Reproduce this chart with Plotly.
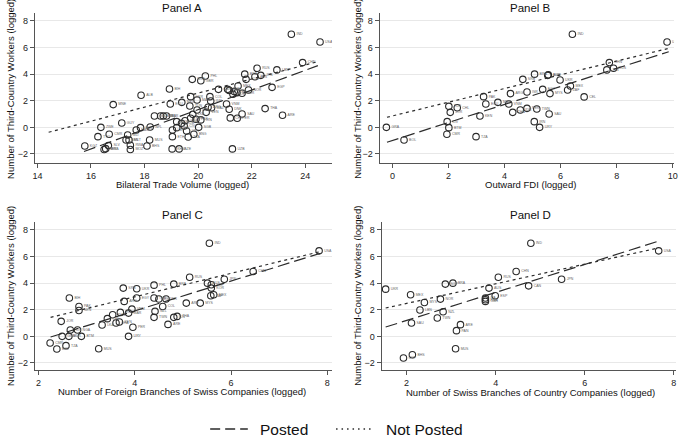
import plotly.graph_objects as go

# ---------------- data ----------------
a_x = [23.48, 24.55, 23.9, 22.94, 22.2, 21.74, 22.12, 22.34, 21.79, 20.27, 19.78, 20.1, 18.93, 17.87, 16.83,
       22.76, 20.76, 21.1, 21.16, 21.49, 21.35, 21.45, 21.64, 21.88, 21.3, 19.72, 20.44, 19.96, 20.47, 19.39,
       18.96, 19.69, 21.06, 20.37, 20.5, 19.96, 20.3, 21.16, 21.64, 22.5, 23.15, 21.2, 21.46, 18.37, 18.6,
       18.7, 18.82, 19.8, 19.72, 19.92, 20.1, 19.51, 19.2, 19.38, 19.2, 19.48, 20.02, 19.04, 19.57, 19.84,
       19.63, 19.04, 18.19, 18.09, 19.03, 19.29, 21.28, 17.47, 17.47, 16.49, 16.65, 15.77, 16.26, 16.68, 16.37,
       17.15, 17.31, 17.37, 17.69, 17.85, 18.21, 17.42, 16.55]
a_y = [7.0, 6.42, 4.87, 4.32, 4.44, 4.0, 3.81, 3.91, 3.61, 3.86, 3.61, 3.51, 2.89, 2.41, 1.71,
       3.01, 2.86, 2.86, 2.78, 3.11, 2.69, 2.6, 2.56, 2.81, 2.49, 2.31, 2.31, 2.06, 1.98, 1.88,
       1.76, 1.61, 1.76, 1.51, 1.48, 1.31, 1.13, 1.36, 1.0, 1.41, 0.91, 0.71, 0.68, 0.86, 0.86,
       0.86, 0.86, 0.98, 0.68, 0.61, 0.56, 0.5, 0.43, 0.3, -0.02, 0.1, 0.0, -0.2, -0.27, -0.52,
       -0.72, -0.7, -0.95, -1.4, -1.62, -1.62, -1.62, -1.67, -1.35, -1.67, -1.37, -1.4, -0.7, -0.52, 0.0,
       0.33, -0.95, -0.57, -0.2, -0.02, 0.03, -0.95, -1.6]
a_lab = ["IND", "USA", "CHN", "LBN", "RUS", "BRA", "AUS", "JPN", "KOR", "PHL", "SRB", "GBR", "BIH", "ALB", "MNE",
         "EGP", "CAN", "ESP", "ITA", "MEX", "FRA", "NLD", "TUR", "NOR", "POL", "UKR", "COL", "MAR", "IDN", "MKD",
         "ECU", "TUN", "VNM", "ARG", "MAZ", "DZA", "VEN", "DNK", "SAU", "THA", "ARE", "CHL", "PER", "GEO", "ARM",
         "MDA", "BLR", "LKA", "KEN", "PAK", "IRN", "GHA", "JOR", "CUB", "SEN", "CIV", "SGB", "LBY", "URY", "BNG",
         "TZA", "ETH", "MUS", "BHS", "KHM", "AZE", "UZB", "MOZ", "RWA", "NER", "SLV", "KGZ", "TTO", "CMR", "ZWE",
         "GUY", "BEN", "MLI", "NAM", "BOL", "NPL", "MLT", "BWA"]
a_posted_x = [15.74, 24.47]
a_posted_y = [-1.82, 4.64]
a_notposted_x = [14.42, 24.47]
a_notposted_y = [-0.37, 4.94]

b_x = [6.42, 9.8, 7.74, 7.65, 7.89, 5.07, 5.54, 5.56, 4.65, 5.98, 5.36, 4.8, 5.62, 4.21, 6.25, 6.35, 6.84,
       3.25, 3.76, 4.15, 3.33, 2.01, 2.31, 2.06, 4.8, 4.56, 5.15, 4.29, 5.59, 3.12, 1.95, 5.06, 2.01, 5.25,
       -0.22, 1.94, 2.98, 0.41]
b_y = [7.0, 6.42, 4.87, 4.32, 4.44, 4.0, 3.91, 3.95, 3.61, 3.56, 2.86, 2.66, 2.54, 2.54, 2.81, 3.11, 2.29,
       2.31, 1.88, 1.76, 1.76, 1.58, 1.48, 1.13, 1.43, 1.31, 1.38, 1.13, 1.0, 0.86, 0.43, 0.43, -0.02, 0.0,
       0.0, -0.52, -0.7, -0.95]
b_lab = ["IND", "USA", "CHN", "JPN", "RUS", "BRA", "AUS", "SGP", "SRB", "UKR", "EGY", "ISR", "MYS", "ARG",
         "ZAF", "MEX", "CEL", "PAK", "MAR", "VNM", "ECU", "TUN", "CHL", "JOR", "PER", "IDN", "TWN", "THA",
         "SAU", "KEN", "CIV", "IRN", "BTM", "URY", "GRA", "CMR", "TZA", "BOL"]
b_posted_x = [-0.2, 9.86]
b_posted_y = [-1.12, 5.69]
b_notposted_x = [-0.2, 9.86]
b_notposted_y = [0.76, 5.94]

c_x = [5.55, 7.83, 6.46, 5.86, 5.14, 5.51, 5.59, 5.59, 4.81, 4.4, 3.76, 4.04, 2.64, 4.4, 4.04, 4.5, 4.65,
       3.78, 5.58, 5.64, 5.07, 5.36, 4.58, 2.84, 2.84, 4.42, 3.94, 3.87, 3.7, 3.54, 3.43, 2.47, 4.4, 4.81,
       4.88, 3.61, 3.68, 3.32, 4.69, 3.96, 2.66, 2.81, 2.49, 2.63, 2.89, 3.87, 2.24, 2.57, 2.38, 3.25]
c_y = [7.0, 6.43, 4.88, 4.3, 4.45, 4.0, 3.88, 3.63, 3.93, 3.85, 3.63, 3.58, 2.88, 2.88, 2.88, 2.81, 2.81,
       2.63, 3.05, 3.13, 2.5, 2.5, 2.25, 2.25, 1.95, 1.88, 2.05, 1.75, 1.8, 1.63, 1.33, 1.13, 1.43, 1.43,
       1.5, 1.0, 1.08, 0.85, 0.9, 0.68, 0.48, 0.48, 0.0, 0.0, 0.0, 0.0, -0.5, -0.7, -0.95, -0.93]
c_lab = ["IND", "USA", "CHN", "JPN", "RUS", "AUS", "SGP", "KOR", "BRA", "PHL", "SRB", "UKR", "BIH", "TUR",
         "EGY", "ESP", "ISR", "ARG", "ZAF", "MEX", "ARE", "MYS", "COL", "PAK", "SEN", "NZL", "VNM", "MAR",
         "ECU", "TUN", "CHL", "JOR", "TWN", "IDN", "THA", "GHA", "KEN", "LKA", "ARE", "PER", "CIV", "NGA",
         "GRA", "BLR", "BTM", "URY", "CMR", "TZA", "BOL", "MUS"]
c_posted_x = [2.25, 7.86]
c_posted_y = [-0.05, 6.25]
c_notposted_x = [2.25, 7.86]
c_notposted_y = [1.43, 6.38]

d_x = [4.79, 7.66, 4.46, 5.48, 4.06, 4.74, 3.85, 2.87, 3.04, 1.53, 2.09, 2.4, 2.76, 3.99, 3.77, 3.77, 3.77,
       2.3, 2.82, 2.69, 2.11, 3.21, 3.12, 3.1, 2.13, 1.93]
d_y = [7.0, 6.43, 4.88, 4.3, 4.45, 3.8, 3.63, 3.93, 4.0, 3.55, 3.13, 2.55, 2.8, 3.05, 2.88, 2.75, 2.63,
       1.98, 1.85, 1.38, 1.0, 0.88, 0.43, -0.93, -1.38, -1.63]
d_lab = ["IND", "USA", "CHN", "JPN", "RUS", "CAN", "AUS", "SGP", "BRA", "UKR", "MEX", "MYS", "NOR", "ESP",
         "ITA", "FRA", "GBR", "LBN", "NZL", "TWN", "SAU", "ARE", "PAN", "MUS", "BHS", "CYP"]
d_posted_x = [1.53, 7.63]
d_posted_y = [0.7, 7.13]
d_notposted_x = [1.53, 7.63]
d_notposted_y = [2.13, 6.63]

x_titles = ["Bilateral Trade Volume (logged)", "Outward FDI (logged)",
            "Number of Foreign Branches of Swiss Companies (logged)",
            "Number of Swiss Branches of Country Companies (logged)"]
panel_titles = ["Panel A", "Panel B", "Panel C", "Panel D"]
y_title = "Number of Third-Country Workers (logged)"
y_ticks = [-2, 0, 2, 4, 6, 8]
x_ticks = [[14, 16, 18, 20, 22, 24], [0, 2, 4, 6, 8, 10], [2, 4, 6, 8], [2, 4, 6, 8]]
legend_labels = ["Posted", "Not Posted"]

# ---------------- layout helpers ----------------
W, H = 685, 437
FONT = "Liberation Sans, Arial, Helvetica, sans-serif"
INK = "#2b2b2b"

def fx(p):
    return p / W

def fy(p):
    return 1 - p / H

panels = [
    dict(x=a_x, y=a_y, lab=a_lab, px=a_posted_x, py=a_posted_y, nx=a_notposted_x, ny=a_notposted_y,
         xr=[13.9, 25.0], xdom=(33, 333), ydom=(13, 163), yr=[-2.68, 8.6],
         title_xy=(182, 8), xt_xy=(182, 184), yt_xy=(8, 89)),
    dict(x=b_x, y=b_y, lab=b_lab, px=b_posted_x, py=b_posted_y, nx=b_notposted_x, ny=b_notposted_y,
         xr=[-0.46, 10.05], xdom=(381, 678), ydom=(13, 163), yr=[-2.68, 8.6],
         title_xy=(533, 8), xt_xy=(533, 184), yt_xy=(358, 89)),
    dict(x=c_x, y=c_y, lab=c_lab, px=c_posted_x, py=c_posted_y, nx=c_notposted_x, ny=c_notposted_y,
         xr=[1.92, 8.1], xdom=(33, 333), ydom=(222, 370), yr=[-2.53, 8.6],
         title_xy=(182, 215), xt_xy=(182, 391), yt_xy=(8, 296)),
    dict(x=d_x, y=d_y, lab=d_lab, px=d_posted_x, py=d_posted_y, nx=d_notposted_x, ny=d_notposted_y,
         xr=[1.44, 8.05], xdom=(383, 680), ydom=(222, 370), yr=[-2.53, 8.6],
         title_xy=(533, 215), xt_xy=(533, 392), yt_xy=(358, 296)),
]

fig = go.Figure()
annotations = []
shapes = []
layout_axes = {}

for i, p in enumerate(panels):
    n = "" if i == 0 else str(i + 1)
    xa, ya = "x" + n, "y" + n
    fig.add_trace(go.Scatter(
        x=p["x"], y=p["y"], text=p["lab"], mode="markers+text", xaxis=xa, yaxis=ya,
        marker=dict(symbol="circle-open", size=6.5, color=INK, line=dict(width=1.1, color=INK)),
        textposition="middle right", textfont=dict(size=3.5, color="#666", family=FONT),
        showlegend=False, hoverinfo="skip"))
    fig.add_trace(go.Scatter(
        x=p["px"], y=p["py"], mode="lines", xaxis=xa, yaxis=ya,
        line=dict(color=INK, width=1.2, dash="12px,5px"), showlegend=False, hoverinfo="skip"))
    fig.add_trace(go.Scatter(
        x=p["nx"], y=p["ny"], mode="lines", xaxis=xa, yaxis=ya,
        line=dict(color=INK, width=1.2, dash="3px,3.5px"), showlegend=False, hoverinfo="skip"))

    layout_axes["xaxis" + n] = dict(
        domain=[fx(p["xdom"][0]), fx(p["xdom"][1])], range=p["xr"], anchor=ya,
        tickvals=x_ticks[i], ticks="outside", ticklen=4, tickcolor="#555", tickwidth=1,
        showline=True, linecolor="#555", linewidth=1, showgrid=False, zeroline=False,
        tickfont=dict(size=9, color="#222", family=FONT), fixedrange=True)
    layout_axes["yaxis" + n] = dict(
        domain=[fy(p["ydom"][1]), fy(p["ydom"][0])], range=p["yr"], anchor=xa,
        tickvals=y_ticks, ticks="outside", ticklen=4, tickcolor="#555", tickwidth=1,
        showline=True, linecolor="#555", linewidth=1, showgrid=True, gridcolor="#e8e8e8",
        gridwidth=1, zeroline=False, tickfont=dict(size=9, color="#222", family=FONT), fixedrange=True)

    annotations.append(dict(text=panel_titles[i], x=fx(p["title_xy"][0]), y=fy(p["title_xy"][1]),
                            xref="paper", yref="paper", showarrow=False, xanchor="center", yanchor="middle",
                            font=dict(size=11.5, color="#111", family=FONT)))
    annotations.append(dict(text=x_titles[i], x=fx(p["xt_xy"][0]), y=fy(p["xt_xy"][1]),
                            xref="paper", yref="paper", showarrow=False, xanchor="center", yanchor="middle",
                            font=dict(size=9.5, color="#111", family=FONT)))
    annotations.append(dict(text=y_title, x=fx(p["yt_xy"][0]), y=fy(p["yt_xy"][1]), textangle=-90,
                            xref="paper", yref="paper", showarrow=False, xanchor="center", yanchor="middle",
                            font=dict(size=9.5, color="#111", family=FONT)))

# legend drawn at the bottom
leg_y = fy(429)
shapes.append(dict(type="line", xref="paper", yref="paper", x0=fx(210), x1=fx(248), y0=leg_y, y1=leg_y,
                   line=dict(color=INK, width=1.5, dash="10px,5px")))
shapes.append(dict(type="line", xref="paper", yref="paper", x0=fx(337), x1=fx(374), y0=leg_y, y1=leg_y,
                   line=dict(color=INK, width=1.3, dash="1.5px,4px")))
annotations.append(dict(text=legend_labels[0], x=fx(258), y=leg_y, xref="paper", yref="paper",
                        showarrow=False, xanchor="left", yanchor="middle",
                        font=dict(size=15.5, color="#111", family=FONT)))
annotations.append(dict(text=legend_labels[1], x=fx(385), y=leg_y, xref="paper", yref="paper",
                        showarrow=False, xanchor="left", yanchor="middle",
                        font=dict(size=15.5, color="#111", family=FONT)))

fig.update_layout(width=W, height=H, margin=dict(l=0, r=0, t=0, b=0),
                  paper_bgcolor="white", plot_bgcolor="white",
                  annotations=annotations, shapes=shapes, **layout_axes)

fig.write_html("out.html", config={"displayModeBar": False, "staticPlot": True},
               post_script="document.body.style.margin='0px';document.body.style.overflow='hidden';")
